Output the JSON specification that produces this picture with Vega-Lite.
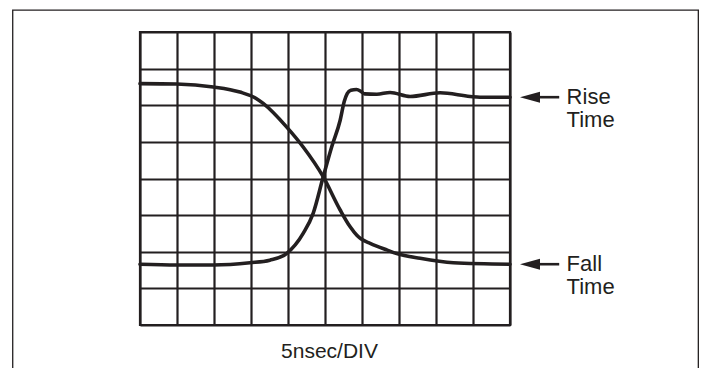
{
  "$schema": "https://vega.github.io/schema/vega-lite/v6.json",
  "width": 370,
  "height": 293,
  "autosize": "none",
  "padding": {"left": 140, "top": 32, "right": 192, "bottom": 43},
  "background": "white",
  "config": {
    "view": {"stroke": "#231f20", "strokeWidth": 2.2},
    "font": "Liberation Sans"
  },
  "datasets": {
    "traces": [
      {"series": "Fall", "t": 0, "v": 6.59},
      {"series": "Fall", "t": 0.99, "v": 6.58},
      {"series": "Fall", "t": 1.98, "v": 6.5},
      {"series": "Fall", "t": 2.7, "v": 6.36},
      {"series": "Fall", "t": 3.15, "v": 6.18},
      {"series": "Fall", "t": 3.33, "v": 6.05},
      {"series": "Fall", "t": 3.96, "v": 5.41},
      {"series": "Fall", "t": 4.41, "v": 4.86},
      {"series": "Fall", "t": 4.95, "v": 4.05},
      {"series": "Fall", "t": 5.41, "v": 3.14},
      {"series": "Fall", "t": 5.68, "v": 2.68},
      {"series": "Fall", "t": 5.86, "v": 2.45},
      {"series": "Fall", "t": 5.99, "v": 2.34},
      {"series": "Fall", "t": 6.22, "v": 2.23},
      {"series": "Fall", "t": 6.67, "v": 2.05},
      {"series": "Fall", "t": 6.94, "v": 1.95},
      {"series": "Fall", "t": 7.57, "v": 1.82},
      {"series": "Fall", "t": 8.47, "v": 1.7},
      {"series": "Fall", "t": 10, "v": 1.66},
      {"series": "Rise", "t": 0, "v": 1.66},
      {"series": "Rise", "t": 0.99, "v": 1.64},
      {"series": "Rise", "t": 1.98, "v": 1.64},
      {"series": "Rise", "t": 2.97, "v": 1.7},
      {"series": "Rise", "t": 3.51, "v": 1.77},
      {"series": "Rise", "t": 3.96, "v": 1.95},
      {"series": "Rise", "t": 4.41, "v": 2.5},
      {"series": "Rise", "t": 4.68, "v": 3.05},
      {"series": "Rise", "t": 4.95, "v": 4.04},
      {"series": "Rise", "t": 5.18, "v": 4.86},
      {"series": "Rise", "t": 5.41, "v": 5.59},
      {"series": "Rise", "t": 5.52, "v": 6.1},
      {"series": "Rise", "t": 5.6, "v": 6.32},
      {"series": "Rise", "t": 5.7, "v": 6.41},
      {"series": "Rise", "t": 5.85, "v": 6.43},
      {"series": "Rise", "t": 5.97, "v": 6.38},
      {"series": "Rise", "t": 6.07, "v": 6.31},
      {"series": "Rise", "t": 6.4, "v": 6.3},
      {"series": "Rise", "t": 6.76, "v": 6.35},
      {"series": "Rise", "t": 7.3, "v": 6.24},
      {"series": "Rise", "t": 8.11, "v": 6.34},
      {"series": "Rise", "t": 8.92, "v": 6.24},
      {"series": "Rise", "t": 9.19, "v": 6.22},
      {"series": "Rise", "t": 10, "v": 6.22}
    ],
    "labels": [
      {"label": "Rise\nTime", "level": 6.22},
      {"label": "Fall\nTime", "level": 1.66}
    ]
  },
  "layer": [
    {
      "data": {"name": "traces"},
      "mark": {"type": "line", "interpolate": "monotone", "color": "#231f20", "strokeWidth": 3.6, "strokeCap": "round", "strokeJoin": "round"},
      "encoding": {
        "x": {"field": "t", "type": "quantitative", "scale": {"domain": [0, 10], "nice": false, "zero": false},
          "axis": {"title": "5nsec/DIV", "values": [0,1,2,3,4,5,6,7,8,9,10], "tickCount": 50, "labelOverlap": false, "labels": false, "ticks": false, "domain": false, "grid": true, "gridColor": "#231f20", "gridWidth": 2.2, "gridOpacity": 1, "titleFont": "Liberation Sans", "titleFontSize": 21, "titleFontWeight": "normal", "titleColor": "#231f20", "titlePadding": 15, "titleX": 189}},
        "y": {"field": "v", "type": "quantitative", "scale": {"domain": [0, 8], "nice": false, "zero": false},
          "axis": {"title": null, "values": [0,1,2,3,4,5,6,7,8], "tickCount": 50, "labelOverlap": false, "labels": false, "ticks": false, "domain": false, "grid": true, "gridColor": "#231f20", "gridWidth": 2.2, "gridOpacity": 1}},
        "detail": {"field": "series"}
      }
    },
    {
      "data": {"values": [{}]},
      "mark": {"type": "rect", "fill": null, "fillOpacity": 0, "stroke": "#231f20", "strokeWidth": 1.3, "clip": false},
      "encoding": {
        "x": {"datum": -3.44, "type": "quantitative"},
        "x2": {"datum": 15.09},
        "y": {"datum": 8.6, "type": "quantitative"},
        "y2": {"datum": -1.5}
      }
    },
    {
      "data": {"name": "labels"},
      "mark": {"type": "rule", "color": "#231f20", "strokeWidth": 2.6, "clip": false},
      "encoding": {
        "x": {"datum": 10.54, "type": "quantitative"},
        "x2": {"datum": 11.33},
        "y": {"field": "level", "type": "quantitative"}
      }
    },
    {
      "data": {"name": "labels"},
      "mark": {"type": "point", "shape": "M -1 0 L 1 -0.55 L 1 0.55 Z", "size": 400, "filled": true, "color": "#231f20", "opacity": 1, "strokeWidth": 0, "clip": false},
      "encoding": {
        "x": {"datum": 10.54, "type": "quantitative"},
        "y": {"field": "level", "type": "quantitative"}
      }
    },
    {
      "data": {"name": "labels"},
      "mark": {"type": "text", "align": "left", "baseline": "middle", "lineBreak": "\n", "lineHeight": 23.3, "fontSize": 22, "font": "Liberation Sans", "color": "#231f20", "clip": false},
      "encoding": {
        "x": {"datum": 11.53, "type": "quantitative"},
        "y": {"field": "level", "type": "quantitative"},
        "text": {"field": "label"}
      }
    }
  ]
}
